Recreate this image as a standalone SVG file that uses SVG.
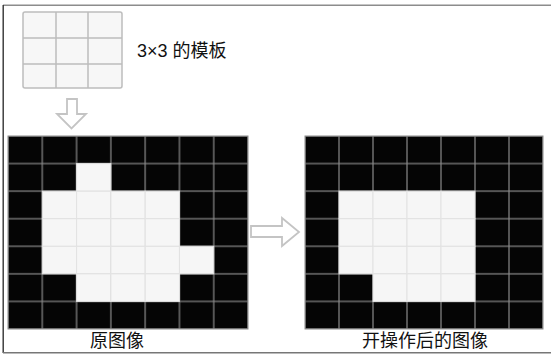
<svg xmlns="http://www.w3.org/2000/svg" width="551" height="356" viewBox="0 0 551 356">
<style>
.blk{fill:#050505;stroke:#8a8a8a;stroke-width:1.2}
.wht{fill:#f6f6f6;stroke:#e2e2e2;stroke-width:1}
.tpl{fill:#f7f7f7;stroke:#bdbdbd;stroke-width:1.5}
.arr{fill:#ffffff;stroke:#c4c4c4;stroke-width:1.8;stroke-linejoin:miter}
.lbl{font-family:"Liberation Sans","Noto Sans CJK SC",sans-serif;font-size:18px;fill:#111}
</style>
<defs>
<pattern id="bg" x="8" y="136" width="34.29" height="27.57" patternUnits="userSpaceOnUse">
<rect width="34.29" height="27.57" class="blk"/>
</pattern>
<pattern id="bg2" x="305" y="136" width="34" height="27.57" patternUnits="userSpaceOnUse">
<rect width="34" height="27.57" class="blk"/>
</pattern>
</defs>
<rect width="551" height="356" fill="#ffffff"/>
<g id="frame">
<line x1="3" y1="5.3" x2="551" y2="5.3" stroke="#8c8c8c" stroke-width="1.6"/>
<line x1="3.2" y1="5" x2="3.2" y2="353" stroke="#333" stroke-width="1.4"/>
<line x1="3" y1="352.8" x2="551" y2="352.8" stroke="#777" stroke-width="1.6"/>
</g>
<g id="template">
<rect x="23" y="12" width="99" height="76" rx="2" class="tpl"/>
<line x1="56" y1="12" x2="56" y2="88" stroke="#bdbdbd" stroke-width="1.5"/>
<line x1="88" y1="12" x2="88" y2="88" stroke="#bdbdbd" stroke-width="1.5"/>
<line x1="23" y1="38" x2="122" y2="38" stroke="#bdbdbd" stroke-width="1.5"/>
<line x1="23" y1="64" x2="122" y2="64" stroke="#bdbdbd" stroke-width="1.5"/>
<text x="137" y="57" class="lbl" font-size="17">3×3 的模板</text>
</g>
<g id="original">
<rect x="8" y="136" width="240" height="193" fill="url(#bg)"/>
<rect x="8" y="136" width="240" height="193" fill="none" stroke="#8a8a8a" stroke-width="1"/>
<g class="wht">
<rect x="76.58" y="163.57" width="34.29" height="27.57"/>
<rect x="42.29" y="191.14" width="34.29" height="27.57"/>
<rect x="76.58" y="191.14" width="34.29" height="27.57"/>
<rect x="110.87" y="191.14" width="34.29" height="27.57"/>
<rect x="145.16" y="191.14" width="34.29" height="27.57"/>
<rect x="42.29" y="218.71" width="34.29" height="27.57"/>
<rect x="76.58" y="218.71" width="34.29" height="27.57"/>
<rect x="110.87" y="218.71" width="34.29" height="27.57"/>
<rect x="145.16" y="218.71" width="34.29" height="27.57"/>
<rect x="42.29" y="246.28" width="34.29" height="27.57"/>
<rect x="76.58" y="246.28" width="34.29" height="27.57"/>
<rect x="110.87" y="246.28" width="34.29" height="27.57"/>
<rect x="145.16" y="246.28" width="34.29" height="27.57"/>
<rect x="179.45" y="246.28" width="34.29" height="27.57"/>
<rect x="76.58" y="273.85" width="34.29" height="27.57"/>
<rect x="110.87" y="273.85" width="34.29" height="27.57"/>
<rect x="145.16" y="273.85" width="34.29" height="27.57"/>
</g>
<text x="117" y="347" class="lbl" text-anchor="middle">原图像</text>
</g>
<g id="result">
<rect x="305" y="136" width="238" height="193" fill="url(#bg2)"/>
<rect x="305" y="136" width="238" height="193" fill="none" stroke="#8a8a8a" stroke-width="1"/>
<g class="wht">
<rect x="339" y="191.14" width="34" height="27.57"/>
<rect x="373" y="191.14" width="34" height="27.57"/>
<rect x="407" y="191.14" width="34" height="27.57"/>
<rect x="441" y="191.14" width="34" height="27.57"/>
<rect x="339" y="218.71" width="34" height="27.57"/>
<rect x="373" y="218.71" width="34" height="27.57"/>
<rect x="407" y="218.71" width="34" height="27.57"/>
<rect x="441" y="218.71" width="34" height="27.57"/>
<rect x="339" y="246.28" width="34" height="27.57"/>
<rect x="373" y="246.28" width="34" height="27.57"/>
<rect x="407" y="246.28" width="34" height="27.57"/>
<rect x="441" y="246.28" width="34" height="27.57"/>
<rect x="373" y="273.85" width="34" height="27.57"/>
<rect x="407" y="273.85" width="34" height="27.57"/>
<rect x="441" y="273.85" width="34" height="27.57"/>
</g>
<text x="425" y="347" class="lbl" text-anchor="middle">开操作后的图像</text>
</g>
<g id="connectors">
<polygon class="arr" points="67,99 77,99 77,114 86,114 71.5,128.5 57,114 67,114"/>
<polygon class="arr" points="251,226 282,226 282,218 299,232 282,246 282,237 251,237"/>
</g>
</svg>
